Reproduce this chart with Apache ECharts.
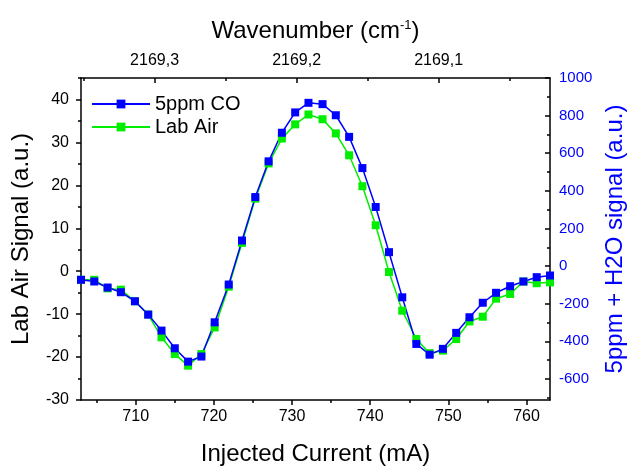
<!DOCTYPE html>
<html>
<head>
<meta charset="utf-8">
<script src="https://cdn.jsdelivr.net/npm/echarts@6/dist/echarts.min.js"></script>
<style>
  html, body { margin: 0; padding: 0; background: #ffffff; }
  #chart { width: 629px; height: 466px; }
</style>
</head>
<body>
<div id="chart"></div>
<script>
// Injected laser current (mA) for each sweep step
const currentMA = [703.0, 704.7, 706.4, 708.1, 709.9, 711.6, 713.3, 715.0, 716.7, 718.4,
                   720.1, 721.9, 723.6, 725.3, 727.0, 728.7, 730.4, 732.1, 733.9, 735.6,
                   737.3, 739.0, 740.7, 742.4, 744.1, 745.9, 747.6, 749.3, 751.0, 752.7,
                   754.4, 756.1, 757.9, 759.6, 761.3, 763.0];

// 5ppm CO + H2O signal (right axis)
const coSignal = [-73, -82, -114, -139, -187, -258, -343, -437, -508, -481,
                  -299, -98, 136, 367, 557, 709, 817, 868, 861, 802,
                  687, 521, 314, 74, -166, -414, -471, -440, -355, -272,
                  -195, -142, -107, -82, -59, -50];

// Lab air signal (left axis)
const labAirSignal = [-2.0, -2.0, -4.0, -4.3, -7.0, -10.1, -15.4, -19.3, -22.0, -19.3,
                      -13.1, -3.6, 6.6, 16.9, 25.1, 30.9, 34.2, 36.5, 35.4, 32.1,
                      27.0, 19.8, 10.7, -0.2, -9.2, -15.8, -19.1, -18.5, -15.8, -11.7,
                      -10.6, -6.4, -5.3, -2.4, -2.8, -2.6];

// Tick positions
const currentTicks = [710, 720, 730, 740, 750, 760];
const currentMinorTicks = [705, 715, 725, 735, 745, 755];
const waveTicks = [2169.1, 2169.2, 2169.3];
const waveMinorTicks = [2169.05, 2169.15, 2169.25, 2169.35];
const labAirTicks = [-30, -20, -10, 0, 10, 20, 30, 40];
const labAirMinorTicks = [-25, -15, -5, 5, 15, 25, 35, 45];
const coTicks = [-600, -400, -200, 0, 200, 400, 600, 800, 1000];
const coMinorTicks = [-700, -500, -300, -100, 100, 300, 500, 700, 900];

const FONT = 'Arial, "Liberation Sans", sans-serif';
const BLUE = '#0000ff';
const GREEN = '#00ee00';
const AXIS_LINE = { show: true, onZero: false, lineStyle: { color: '#000', width: 1.5 } };
const NO_LINE = { show: false, onZero: false };

function pairs(xs, ys) { return xs.map((x, i) => [x, ys[i]]); }

const chart = echarts.init(document.getElementById('chart'), null, { renderer: 'canvas' });

chart.setOption({
  animation: false,
  backgroundColor: '#ffffff',
  grid: { left: 81, right: 79, top: 78, bottom: 66, containLabel: false, outerBoundsMode: 'none' },
  legend: {
    data: ['5ppm CO', 'Lab Air'],
    orient: 'vertical',
    left: 86,
    top: 89,
    itemWidth: 58,
    itemHeight: 11,
    itemGap: 3,
    textStyle: { fontFamily: FONT, fontSize: 20, color: '#000' }
  },
  xAxis: [
    {
      type: 'value', position: 'bottom', min: 703, max: 763,
      axisLine: AXIS_LINE,
      splitLine: { show: false },
      axisTick: { show: true, inside: false, length: 5, lineStyle: { color: '#000', width: 1.5 }, customValues: currentTicks },
      axisLabel: { customValues: currentTicks, fontFamily: FONT, fontSize: 16, color: '#000', margin: 9 },
      name: 'Injected Current (mA)', nameLocation: 'middle', nameGap: 42,
      nameTextStyle: { fontFamily: FONT, fontSize: 24, color: '#000' }
    },
    {
      type: 'value', position: 'bottom', min: 703, max: 763,
      axisLine: NO_LINE, splitLine: { show: false },
      axisTick: { show: true, inside: false, length: 3, lineStyle: { color: '#000', width: 1.5 }, customValues: currentMinorTicks },
      axisLabel: { show: false }
    },
    {
      type: 'value', position: 'top', min: 2169.0216, max: 2169.3518, inverse: true,
      axisLine: AXIS_LINE, splitLine: { show: false },
      axisTick: { show: true, inside: true, length: 5, lineStyle: { color: '#000', width: 1.5 }, customValues: waveTicks },
      axisLabel: {
        customValues: waveTicks, fontFamily: FONT, fontSize: 16, color: '#000', margin: 9,
        formatter: v => v.toFixed(1).replace('.', ',')
      },
      name: '{a|Wavenumber (cm}{s|-1}{a|)}', nameLocation: 'middle', nameGap: 34,
      nameTextStyle: {
        rich: {
          a: { fontFamily: FONT, fontSize: 24, color: '#000' },
          s: { fontFamily: FONT, fontSize: 13, color: '#000', verticalAlign: 'top', padding: [0, 0, 12, 0] }
        }
      }
    },
    {
      type: 'value', position: 'top', min: 2169.0216, max: 2169.3518, inverse: true,
      axisLine: NO_LINE, splitLine: { show: false },
      axisTick: { show: true, inside: true, length: 3, lineStyle: { color: '#000', width: 1.5 }, customValues: waveMinorTicks },
      axisLabel: { show: false }
    }
  ],
  yAxis: [
    {
      type: 'value', position: 'left', min: -30, max: 45,
      axisLine: AXIS_LINE, splitLine: { show: false },
      axisTick: { show: true, inside: false, length: 5, lineStyle: { color: '#000', width: 1.5 }, customValues: labAirTicks },
      axisLabel: { customValues: labAirTicks, fontFamily: FONT, fontSize: 16, color: '#000', margin: 12 },
      name: 'Lab Air Signal (a.u.)', nameLocation: 'middle', nameGap: 48,
      nameTextStyle: { fontFamily: FONT, fontSize: 24, color: '#000' }
    },
    {
      type: 'value', position: 'left', min: -30, max: 45,
      axisLine: NO_LINE, splitLine: { show: false },
      axisTick: { show: true, inside: false, length: 3, lineStyle: { color: '#000', width: 1.5 }, customValues: labAirMinorTicks },
      axisLabel: { show: false }
    },
    {
      type: 'value', position: 'right', min: -712, max: 1000,
      axisLine: AXIS_LINE, splitLine: { show: false },
      axisTick: { show: true, inside: true, length: 5, lineStyle: { color: '#000', width: 1.5 }, customValues: coTicks },
      axisLabel: {
        customValues: coTicks, fontFamily: FONT, fontSize: 15, color: BLUE, margin: 9,
        formatter: v => String(v)
      },
      name: '5ppm + H2O signal (a.u.)', nameLocation: 'middle', nameGap: 31,
      nameTextStyle: { fontFamily: FONT, fontSize: 24, color: BLUE }
    },
    {
      type: 'value', position: 'right', min: -712, max: 1000,
      axisLine: NO_LINE, splitLine: { show: false },
      axisTick: { show: true, inside: true, length: 3, lineStyle: { color: '#000', width: 1.5 }, customValues: coMinorTicks },
      axisLabel: { show: false }
    }
  ],
  series: [
    {
      name: 'Lab Air', type: 'line', xAxisIndex: 0, yAxisIndex: 0,
      data: pairs(currentMA, labAirSignal),
      symbol: 'rect', symbolSize: 8, showSymbol: true, showAllSymbol: true,
      lineStyle: { color: GREEN, width: 1.5 },
      itemStyle: { color: GREEN }
    },
    {
      name: '5ppm CO', type: 'line', xAxisIndex: 0, yAxisIndex: 2,
      data: pairs(currentMA, coSignal),
      symbol: 'rect', symbolSize: 8, showSymbol: true, showAllSymbol: true,
      lineStyle: { color: BLUE, width: 1.5 },
      itemStyle: { color: BLUE }
    }
  ]
});
</script>
</body>
</html>
